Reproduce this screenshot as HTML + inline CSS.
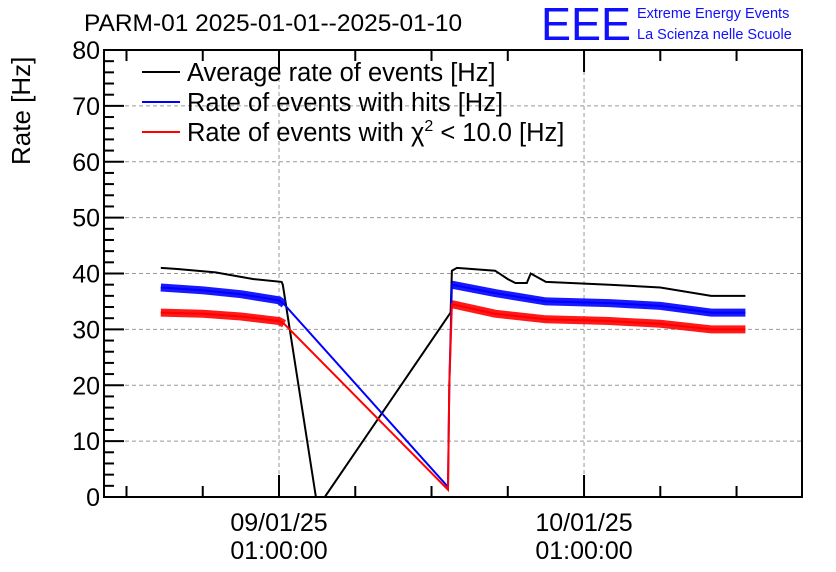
<!DOCTYPE html>
<html><head><meta charset="utf-8"><style>
html,body{margin:0;padding:0;background:#fff;}
svg{display:block;font-family:"Liberation Sans",sans-serif;}
</style></head><body>
<svg id="chart" width="836" height="572" viewBox="0 0 836 572">
<rect width="836" height="572" fill="#fff"/>
<text x="84" y="31" font-size="24.5">PARM-01 2025-01-01--2025-01-10</text>
<text x="541" y="40" font-size="46" fill="#1010ff" textLength="90" lengthAdjust="spacingAndGlyphs">EEE</text>
<text x="637" y="18" font-size="14.5" fill="#1010ff">Extreme Energy Events</text>
<text x="637" y="39" font-size="14.5" fill="#1010ff">La Scienza nelle Scuole</text>
<text transform="translate(30,165) rotate(-90)" font-size="26">Rate [Hz]</text>
<g id="grid"></g>
<g id="marks"></g>
<g id="axes"></g>
<g>
 <line x1="142" y1="72" x2="180" y2="72" stroke="#000" stroke-width="2"/>
 <text x="187" y="81" font-size="25.5">Average rate of events [Hz]</text>
 <line x1="142" y1="102" x2="180" y2="102" stroke="#00f" stroke-width="2"/>
 <text x="187" y="111" font-size="25.5">Rate of events with hits [Hz]</text>
 <line x1="142" y1="132" x2="180" y2="132" stroke="#f00" stroke-width="2"/>
 <text x="187" y="141" font-size="25.5">Rate of events with χ<tspan font-size="16" dy="-10">2</tspan><tspan dy="10"> &lt; 10.0 [Hz]</tspan></text>
</g>
</svg>
<script>
// hours relative to 09/01/25 01:00:00
const blackT = [-9.3,-8,-5,-2,0.2,0.3,2.9,3.6,13.5,13.6,14,17,18,18.6,19.5,19.8,21,26,30,34,36.7];
const blackV = [41,40.8,40.2,39,38.5,38,0,0,33,40.5,41,40.5,39,38.3,38.3,40,38.5,38,37.5,36,36];
const blueT = [-9.3,-6,-3,0,0.4,13.3,13.4,13.6,17,21,26,30,34,36.7];
const blueV = [37.5,37,36.3,35.2,34.5,1.8,20,38,36.5,35,34.7,34.2,33,33];
const redT = [-9.3,-6,-3,0,0.4,13.3,13.4,13.6,17,21,26,30,34,36.7];
const redV = [33,32.8,32.3,31.5,31,1.3,20,34.5,32.8,31.8,31.5,31,30,30];
const yTicks = [0,10,20,30,40,50,60,70,80];
const xMajor = [0,24];
const xLabels = ["09/01/25","10/01/25"];
const xMinorStep = 6;

const L=104,R=802,T=50,B=497, tMin=-13.77, tMax=41.15;
const X=t=>L+(t-tMin)/(tMax-tMin)*(R-L);
const Y=v=>B-v/80*(B-T);
const NS="http://www.w3.org/2000/svg";
function mk(tag,attrs,parent){const e=document.createElementNS(NS,tag);for(const k in attrs)e.setAttribute(k,attrs[k]);parent.appendChild(e);return e;}
const grid=document.getElementById('grid'),axes=document.getElementById('axes'),marks=document.getElementById('marks');
yTicks.forEach(v=>{
 if(v>0&&v<80){const g=mk('line',{x1:L,x2:R,y1:Y(v),y2:Y(v),stroke:'#999','stroke-dasharray':'4,3','stroke-width':1},grid);
 
 }
 const tl=mk('line',{x1:L,x2:L+20,y1:Y(v),y2:Y(v),stroke:'#000','stroke-width':2},axes);
 
 
 const tx=mk('text',{x:L-4,y:Y(v)+9,'font-size':25,'text-anchor':'end'},axes);tx.textContent=v;
 
 
 if(v<80)for(let k=1;k<5;k++){const m=mk('line',{x1:L,x2:L+10,y1:Y(v+2*k),y2:Y(v+2*k),stroke:'#000','stroke-width':2},axes);
 
 }
});
xMajor.forEach((t,i)=>{
 const g=mk('line',{x1:X(t),x2:X(t),y1:T,y2:B,stroke:'#999','stroke-dasharray':'4,3','stroke-width':1},grid);
 
 
 const tx=mk('text',{x:X(t),y:531,'font-size':25,'text-anchor':'middle'},axes);tx.textContent=xLabels[i];
 
 
 const tx2=mk('text',{x:X(t),y:559,'font-size':25,'text-anchor':'middle'},axes);tx2.textContent="01:00:00";
 
 
});
for(let t=-12;t<=tMax;t+=xMinorStep){
 const major=xMajor.includes(t);
 const a=mk('line',{x1:X(t),x2:X(t),y1:B,y2:B-(major?22:11),stroke:'#000','stroke-width':2},axes);
 
 
 const b=mk('line',{x1:X(t),x2:X(t),y1:T,y2:T+(major?22:11),stroke:'#000','stroke-width':2},axes);
 
 
}
const fr=mk('rect',{x:L,y:T,width:R-L,height:B-T,fill:'none',stroke:'#000','stroke-width':2},axes);


function series(ts,vs,color,name,band){
 const pts=ts.map((t,i)=>X(t).toFixed(1)+','+Y(vs[i]).toFixed(1)).join(' ');
 if(band){
  const segs=[[0,4],[7,ts.length-1]];
  segs.forEach(s=>{const p=ts.slice(s[0],s[1]+1).map((t,j)=>X(t).toFixed(1)+','+Y(vs[s[0]+j]).toFixed(1)).join(' ');
   const b=mk('polyline',{points:p,fill:'none',stroke:color,'stroke-width':8,'stroke-opacity':0.9},marks);
   
   });
 }
 const pl=mk('polyline',{points:pts,fill:'none',stroke:color,'stroke-width':2},marks);
 
 
}
series(blackT,blackV,'#000','average-rate-line',false);
series(blueT,blueV,'#00f','hits-rate-line',true);
series(redT,redV,'#f00','chi2-rate-line',true);
</script>
</body></html>
